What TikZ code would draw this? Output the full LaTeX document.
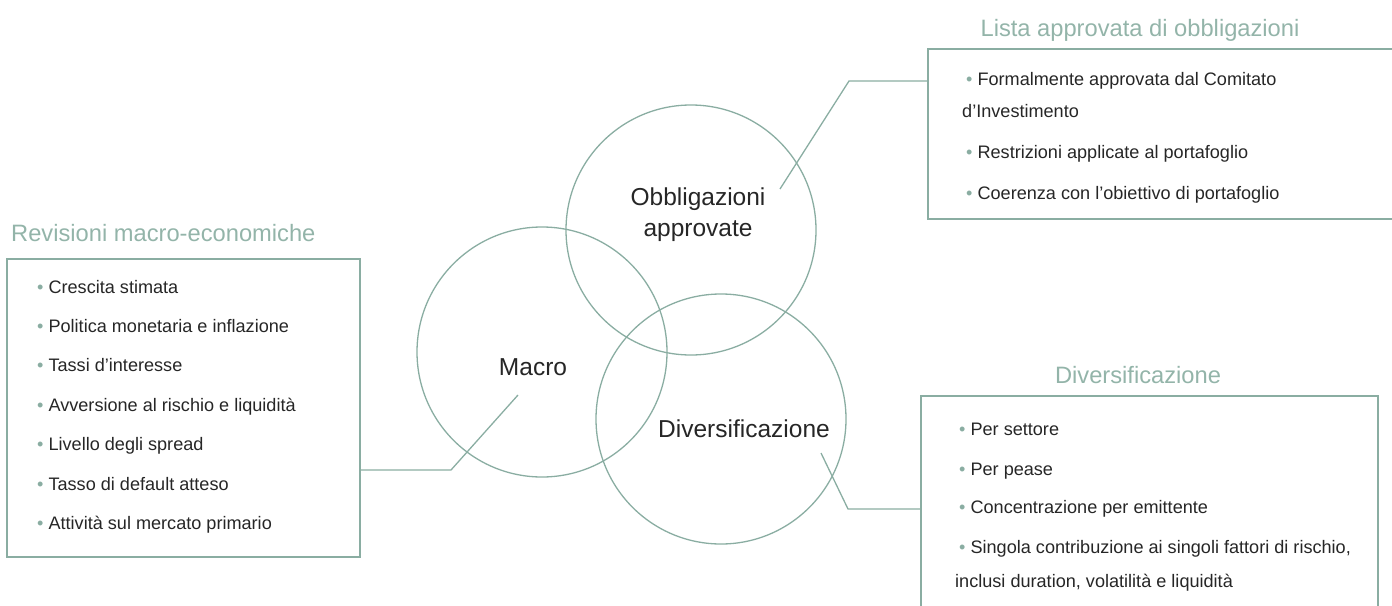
\documentclass[tikz,border=0pt]{standalone}
\usepackage{fontspec}
\setmainfont{Liberation Sans}
\definecolor{vline}{HTML}{8AADA2}
\definecolor{vtitle}{HTML}{93B4A9}
\definecolor{vtext}{HTML}{262626}
\newcommand{\bul}{{\color{vline}\textbullet}\ }
\tikzset{
  venn/.style={circle,draw=vline,line width=1.3pt,minimum size=250pt,inner sep=0pt},
  panel/.style={rectangle,draw=vline,line width=1.3pt,inner sep=0pt},
  heading/.style={anchor=base,inner sep=0pt,text=vtitle,font=\fontsize{23.7}{26}\selectfont},
  item/.style={anchor=base west,inner sep=0pt,text=vtext,font=\fontsize{18.1}{20}\selectfont},
  tag/.style={inner sep=0pt,text=vtext,font=\fontsize{24.5}{31}\selectfont,align=center},
  link/.style={draw=vline,line width=1.3pt},
}
\begin{document}
\begin{tikzpicture}[x=1pt,y=-1pt]
    \useasboundingbox (0,0) rectangle (1392,605);
      \node[venn](Cm) at (542,352) {};
      \node[venn](Co) at (691,230) {};
      \node[venn](Cd) at (721,419) {};
      \node[tag](Lo) at (698,215) {Obbligazioni\\approvate};
      \node[tag,anchor=base](Lm) at (533,375) {Macro};
      \node[tag,anchor=base](Ld) at (744,437) {Diversificazione};
      \node[panel,minimum width=353pt,minimum height=298pt](Bm) at (183.5,408) {};
      \node[panel,minimum width=468pt,minimum height=170pt](Bo) at (1162,134) {};
      \node[panel,minimum width=457pt,minimum height=214pt](Bd) at (1149.5,503) {};
      \node[heading,anchor=base west](Hm) at (11,241) {Revisioni macro-economiche};
      \node[heading](Ho) at (1140,36) {Lista approvata di obbligazioni};
      \node[heading](Hd) at (1138,383) {Diversificazione};
      \foreach \t [count=\i] in {Crescita stimata,Politica monetaria e inflazione,
        Tassi d’interesse,Avversione al rischio e liquidità,Livello degli spread,
        Tasso di default atteso,Attività sul mercato primario}{
        \node[item](m\i) at (37,{293+39.4*(\i-1)}) {\bul\t};
      }
      \foreach \x/\y/\t [count=\i] in {966/85/\bul Formalmente approvata dal Comitato,
        962/117/d’Investimento,966/158/\bul Restrizioni applicate al portafoglio,
        966/199/\bul Coerenza con l’obiettivo di portafoglio}{
        \node[item](o\i) at (\x,\y) {\t};
      }
      \foreach \x/\y/\t [count=\i] in {959/435/\bul Per settore,959/475/\bul Per pease,
        959/513/\bul Concentrazione per emittente,
        959/553/{\bul Singola contribuzione ai singoli fattori di rischio,},
        955/587/{inclusi duration, volatilità e liquidità}}{
        \node[item](d\i) at (\x,\y) {\t};
      }
      \coordinate(Pm) at (518,395);
      \coordinate(Km) at (451,470);
      \coordinate(Po) at (780,189);
      \coordinate(Ko) at (849,81);
      \coordinate(Pd) at (821,453);
      \coordinate(Kd) at (848,509);
      \draw[link](Pm)--(Km)--(Km -| Bm.east);
      \draw[link](Po)--(Ko)--(Ko -| Bo.west);
      \draw[link](Pd)--(Kd)--(Kd -| Bd.west);
  \end{tikzpicture}
\end{document}
